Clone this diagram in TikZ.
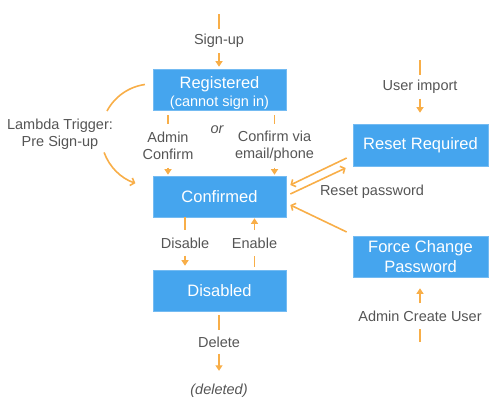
\documentclass[tikz,border=0pt]{standalone}
\usepackage{fontspec}
\setmainfont{Liberation Sans}
\usetikzlibrary{arrows.meta,calc}
\definecolor{boxblue}{HTML}{45A5EE}
\definecolor{arrorange}{HTML}{F8AE48}
\definecolor{txtgray}{HTML}{555555}
\tikzset{
 state/.style={fill=boxblue, draw=boxblue!75!white, line width=0.6pt, text=white, minimum width=133pt, minimum height=41pt, inner sep=0pt, align=center, font=\fontsize{16.5}{20}\selectfont},
 lbl/.style={text=txtgray, inner sep=0pt, align=center, font=\fontsize{14.5}{17}\selectfont},
 seg/.style={draw=arrorange, line width=1.6pt},
 arr/.style={seg, -{Triangle[length=5.5pt,width=7pt]}},
 barb/.style={seg, -{Straight Barb[length=3.5pt,width=8pt]}},
}
\begin{document}
\begin{tikzpicture}[x=1pt,y=-1pt]
\useasboundingbox (0,0) rectangle (490,400);
% states
\node[state] (reg) at (219.5,89.5) {\rule{0pt}{19pt}Registered\\[-1.5pt]{\fontsize{14.5}{17}\selectfont (cannot sign in)}};
\node[state] (conf) at (219.5,196.5) {Confirmed};
\node[state] (dis) at (219.5,290.5) {Disabled};
\node[state, minimum width=135pt, minimum height=42pt] (rr) at (420.5,145) {Reset Required};
\node[state, minimum width=135pt] (fc) at (420.5,256.5) {Force Change\\Password};
% labels
\node[lbl, minimum height=24pt] (signup) at (219,41) {Sign-up};
\node[lbl, minimum height=43pt] (adminc) at (168,146) {Admin\\Confirm};
\node[lbl, minimum height=43pt] (confvia) at (274.5,146) {Confirm via\\email/phone};
\node[lbl, font=\fontsize{14.5}{17}\selectfont\itshape] (orlbl) at (217,130) {or};
\node[lbl] (lambda) at (60,134.5) {Lambda Trigger:\\Pre Sign-up};
\node[lbl] (resetpw) at (372,192) {Reset password};
\node[lbl, minimum height=23pt] (userimp) at (420,87) {User import};
\node[lbl, minimum height=25pt] (acu) at (420,316) {Admin Create User};
\node[lbl, minimum height=25pt] (disable) at (185,243) {Disable};
\node[lbl, minimum height=26pt] (enable) at (254.5,243) {Enable};
\node[lbl, minimum height=23pt] (delete) at (219,342) {Delete};
\node[lbl, minimum height=40pt, font=\fontsize{14.5}{17}\selectfont\itshape] (deleted) at (219,391) {(deleted)};
% free ends
\coordinate (suTop) at (219,14);
\coordinate (uiTop) at (420,60);
\coordinate (acuBot) at (420,342);
\coordinate (lamc) at (152,135);
% connectors
\draw[seg] (suTop) -- (signup.north);
\draw[arr, shorten >=2pt] (signup.south) -- (signup.south |- reg.north);
\draw[seg, shorten <=5pt] (reg.south -| adminc) -- (adminc.north);
\draw[arr, shorten >=1pt] (adminc.south) -- (adminc.south |- conf.north);
\draw[seg, shorten <=5pt] (reg.south -| confvia) -- (confvia.north);
\draw[arr, shorten >=1pt] (confvia.south) -- (confvia.south |- conf.north);
\draw[seg] (conf.south -| disable) -- (disable.north);
\draw[arr, shorten >=4pt] (disable.south) -- (disable.south |- dis.north);
\draw[seg, shorten <=3pt] (dis.north -| enable) -- (enable.south);
\draw[arr, shorten >=1pt] (enable.north) -- (enable.north |- conf.south);
\draw[seg, shorten <=4pt] (dis.south -| delete) -- (delete.north);
\draw[arr] (delete.south) -- (deleted.north);
\draw[seg] (uiTop) -- (userimp.north);
\draw[arr, shorten >=11pt] (userimp.south) -- (userimp.south |- rr.north);
\draw[seg] (acuBot) -- (acu.south);
\draw[arr, shorten >=11pt] (acu.north) -- (acu.north |- fc.south);
\draw[barb] ($(rr.west)+(-6,13)$) -- ($(conf.east)+(4,-11.5)$);
\draw[barb] ($(conf.east)+(4,-2.5)$) -- ($(rr.west)+(-7,23)$);
\draw[barb] ($(fc.west)+(-6,-24.5)$) -- ($(conf.east)+(4,8.5)$);
\draw[seg] (lamc) ++(262:51) arc[start angle=262, end angle=208, radius=51];
\draw[barb] (lamc) ++(160:51) arc[start angle=160, end angle=109, radius=51];
\end{tikzpicture}
\end{document}
